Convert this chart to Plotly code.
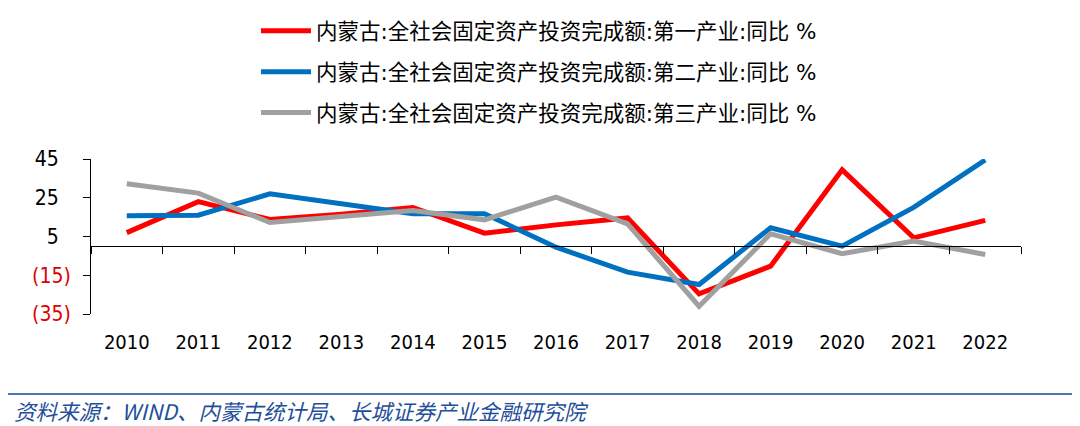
import plotly.graph_objects as go

years = [str(y) for y in range(2010, 2023)]
primary = [7.0, 23.0, 13.8, 16.5, 20.0, 6.7, 11.0, 14.6, -24.6, -10.3, 39.4, 4.3, 13.3]
secondary = [15.7, 16.0, 27.0, 22.0, 16.8, 16.8, -0.5, -13.4, -19.8, 9.5, 0.0, 20.0, 44.5]
tertiary = [32.2, 27.4, 12.2, 15.3, 18.4, 13.6, 25.3, 11.5, -31.0, 6.4, -3.9, 2.6, -4.3]

names = [
    "内蒙古:全社会固定资产投资完成额:第一产业:同比 %",
    "内蒙古:全社会固定资产投资完成额:第二产业:同比 %",
    "内蒙古:全社会固定资产投资完成额:第三产业:同比 %",
]
colors = ["#FF0000", "#0070C0", "#A0A0A0"]

y_ticks = [45, 25, 5, -15, -35]
y_min, y_max = -35, 45
x_range = [-0.5, len(years) - 0.5]

def fmt(v):
    if v < 0:
        return f"<span style='color:#E00000'>({abs(v)})</span>"
    return f"{v}\u2007"

CJK = "Noto Sans CJK SC"
NUM = "DejaVu Sans Condensed, DejaVu Sans"
LEG = "DejaVu Sans, Noto Sans CJK SC"

# page offset of the figure (body margin) is 8px; plot area spans 930 x 155 px
L, T, PW, PH = 83, 151, 930, 155

fig = go.Figure()
for i, (vals, nm, c) in enumerate(zip([primary, secondary, tertiary], names, colors)):
    fig.add_trace(go.Scatter(x=years, y=vals, mode="lines", name=nm,
                             line=dict(color=c, width=5), legendgroup=str(i)))

# invisible helper trace for the zero-line axis with boundary ticks
fig.add_trace(go.Scatter(x=years, y=[None] * len(years), xaxis="x2", yaxis="y",
                         showlegend=False, hoverinfo="skip", mode="lines"))

fig.update_layout(
    width=1080, height=426,
    margin=dict(l=L, r=1080 - L - PW, t=T, b=426 - T - PH, autoexpand=False),
    plot_bgcolor="white", paper_bgcolor="white",
    showlegend=True,
    legend=dict(x=0.1774, xanchor="left", y=1.96, yanchor="top",
                font=dict(family=LEG, size=21.5, color="#000000"),
                tracegroupgap=10, itemwidth=50, bgcolor="rgba(0,0,0,0)"),
    xaxis=dict(type="category", categoryorder="array", categoryarray=years,
               range=x_range, automargin=False,
               showline=False, showgrid=False, zeroline=False, ticks="",
               tickfont=dict(family=NUM, size=20, color="#000000"),
               ticklabelstandoff=14),
    xaxis2=dict(type="category", categoryorder="array", categoryarray=years,
                range=x_range, overlaying="x", anchor="free",
                position=(0 - y_min) / (y_max - y_min),
                showline=True, linecolor="#000000", linewidth=1,
                ticks="outside", tickson="boundaries", ticklen=7,
                tickcolor="#000000", tickwidth=1,
                showticklabels=False, showgrid=False, zeroline=False),
    yaxis=dict(range=[y_min, y_max], tickvals=y_ticks, automargin=False,
               ticktext=[fmt(v) for v in y_ticks],
               showline=True, linecolor="#000000", linewidth=1,
               ticks="outside", ticklen=7, tickcolor="#000000",
               showgrid=False, zeroline=False,
               tickfont=dict(family=NUM, size=21, color="#000000"),
               ticklabelstandoff=8),
    shapes=[dict(type="line", xref="paper", yref="paper",
                 x0=-L / PW, x1=(1080 - L) / PW,
                 y0=-80 / PH, y1=-80 / PH,
                 line=dict(color="#4A78B5", width=2))],
    annotations=[dict(text="<i>资料来源：WIND、内蒙古统计局、长城证券产业金融研究院</i>",
                      xref="paper", yref="paper", x=(4 - L) / PW, y=-96 / PH,
                      xanchor="left", yanchor="middle", showarrow=False,
                      font=dict(family=CJK, size=21.5, color="#1F4E9A"))],
)

fig.write_html("out.html")
